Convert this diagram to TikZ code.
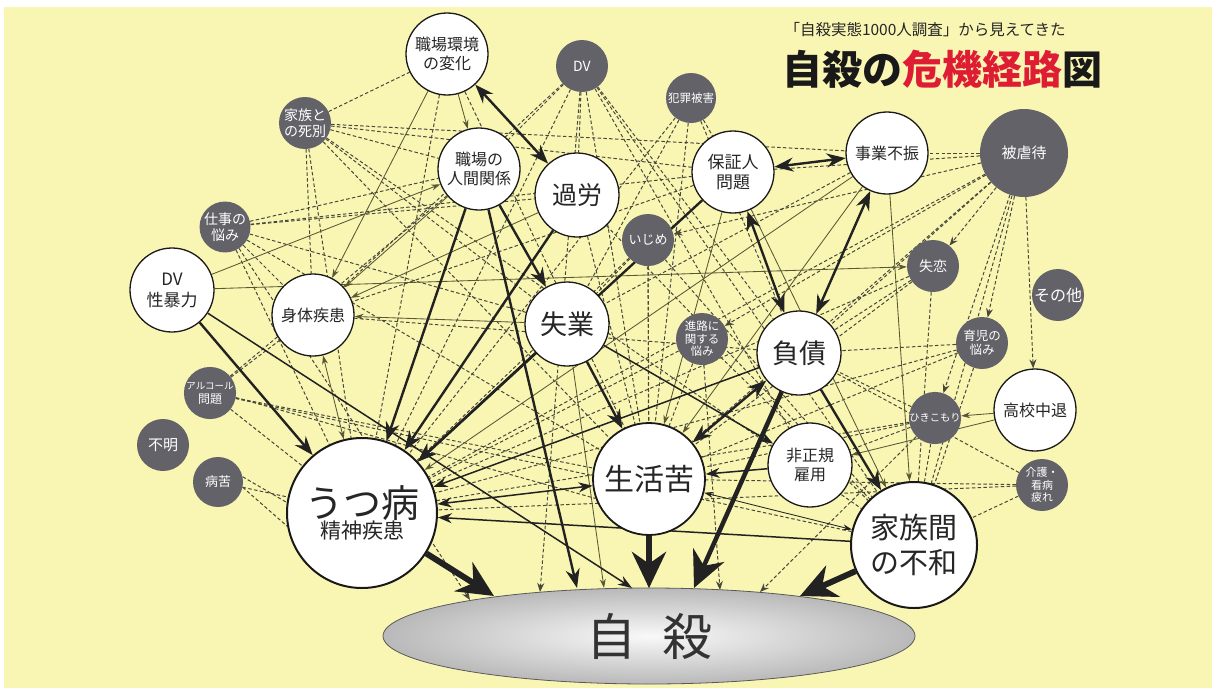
\documentclass[tikz,border=0pt]{standalone}
\usepackage{fontspec}
\setmainfont{Noto Sans CJK JP}
\usetikzlibrary{arrows.meta,shapes.geometric}
\definecolor{bgY}{RGB}{249,246,180}
\definecolor{darkN}{RGB}{98,98,104}
\definecolor{lineK}{RGB}{34,34,34}
\definecolor{olv}{RGB}{88,88,52}
\definecolor{dsh}{RGB}{72,72,60}
\definecolor{titleRed}{RGB}{222,28,52}
\newcommand{\fsz}[2]{\fontsize{#1}{#2}\selectfont}
\pgfdeclarelayer{bgl}\pgfdeclarelayer{edges}\pgfsetlayers{bgl,edges,main}
\tikzset{
 wn/.style={circle,draw=black!90,line width=1.3pt,fill=white,align=center,inner sep=0pt,text=black!85},
 dn/.style={circle,fill=darkN,text=white,align=center,inner sep=0pt,minimum size=52pt},
 dashe/.style={dash pattern=on 3.5pt off 2.3pt, line width=1pt, draw=dsh},
 dasharr/.style={dashe, -{Stealth[length=9pt,width=7pt]}},
 thinl/.style={line width=0.85pt, draw=olv},
 thinarr/.style={thinl, -{Stealth[length=9pt,width=6pt]}},
 thinboth/.style={thinl, {Stealth[length=9pt,width=6pt]}-{Stealth[length=9pt,width=6pt]}},
 midarr/.style={line width=1.5pt, draw=lineK, -{Stealth[length=14pt,width=10pt]}},
 midboth/.style={line width=1.5pt, draw=lineK, {Stealth[length=14pt,width=10pt]}-{Stealth[length=14pt,width=10pt]}},
 tharr/.style={line width=2.4pt, draw=lineK, -{Stealth[length=19pt,width=14pt]}},
 thboth/.style={line width=2.4pt, draw=lineK, {Stealth[length=19pt,width=14pt]}-{Stealth[length=19pt,width=14pt]}},
 bigarr/.style={line width=6pt, draw=lineK, -{Stealth[length=36pt,width=34pt]}},
}
\begin{document}
\begin{tikzpicture}[x=1pt,y=-1pt]
\begin{pgfonlayer}{bgl}
\fill[white] (0,0) rectangle (1212,688);
\fill[bgY] (4,7) rectangle (1212,688);
\end{pgfonlayer}

% title
\node[anchor=west,font=\fsz{15.5}{17},text=black!85] (sub) at (781,30) {「自殺実態1000人調査」から見えてきた};
\node[anchor=west,font=\fsz{40}{42}\bfseries,text=black!90] (title) at (779,69) {自殺の\textcolor{titleRed}{危機経路}図};

% white nodes
\node[wn,minimum size=82pt,font=\fsz{16}{19}] (env) at (447,54) {職場環境\\の変化};
\node[wn,minimum size=82pt,font=\fsz{16}{19}] (rel) at (479,169) {職場の\\人間関係};
\node[wn,minimum size=84pt,font=\fsz{25}{28}] (karo) at (577,195) {過労};
\node[wn,minimum size=82pt,font=\fsz{17}{20}] (hosho) at (733,172) {保証人\\問題};
\node[wn,minimum size=82pt,font=\fsz{16}{19}] (jigyo) at (887,153) {事業不振};
\node[wn,minimum size=84pt,font=\fsz{17}{21}] (dvs) at (172,290) {DV\\性暴力};
\node[wn,minimum size=82pt,font=\fsz{16}{19}] (shintai) at (313,315) {身体疾患};
\node[wn,minimum size=84pt,font=\fsz{27}{30}] (shitsu) at (567,324) {失業};
\node[wn,minimum size=84pt,font=\fsz{27}{30}] (fusai) at (799,353) {負債};
\node[wn,minimum size=82pt,font=\fsz{16}{19}] (koko) at (1035,410) {高校中退};
\node[wn,minimum size=84pt,font=\fsz{16}{19}] (hisei) at (810,465) {非正規\\雇用};
\node[wn,minimum size=112pt,line width=1.8pt,font=\fsz{30}{34}] (seikatsu) at (649,479) {生活苦};
\node[wn,minimum size=150pt,line width=2pt] (utsu) at (362,513) {\fsz{38}{42}うつ病\\\fsz{21}{26}精神疾患};
\node[wn,minimum size=126pt,line width=2pt,font=\fsz{29}{35}] (kazoku) at (914,545) {家族間\\の不和};

% dark nodes
\node[dn,font=\fsz{14}{16}] (shibetsu) at (305,123) {家族と\\の死別};
\node[dn,font=\fsz{14}{16}] (dv2) at (582,66) {DV};
\node[dn,minimum size=50pt,font=\fsz{11.5}{13}] (hanzai) at (691,98) {犯罪被害};
\node[dn,minimum size=88pt,font=\fsz{15}{17}] (gyaku) at (1024,153) {被虐待};
\node[dn,minimum size=50pt,font=\fsz{14}{16}] (shigoto) at (225,227) {仕事の\\悩み};
\node[dn,font=\fsz{13}{15}] (ijime) at (648,240) {いじめ};
\node[dn,font=\fsz{14}{16}] (shitsuren) at (933,266) {失恋};
\node[dn,font=\fsz{16}{18}] (sonota) at (1058,295) {その他};
\node[dn,font=\fsz{11.5}{12.5}] (shinro) at (702,339) {進路に\\関する\\悩み};
\node[dn,font=\fsz{12.5}{14}] (ikuji) at (982,343) {育児の\\悩み};
\node[dn,font=\fsz{12}{14}] (alc) at (210,393) {{\fsz{9.5}{13}アルコール}\\問題};
\node[dn,font=\fsz{10.3}{12}] (hiki) at (935,418) {ひきこもり};
\node[dn,font=\fsz{15}{17}] (fumei) at (163,445) {不明};
\node[dn,minimum size=50pt,font=\fsz{13}{15}] (byoku) at (218,482) {病苦};
\node[dn,font=\fsz{11}{12.5}] (kaigo) at (1042,485) {介護・\\看病\\疲れ};

% suicide ellipse
\node[ellipse,draw=black!65,line width=0.8pt,minimum width=532pt,minimum height=96pt,inner sep=0pt,
  inner color=gray!5,outer color=gray!55,text=black!80,font=\fsz{50}{52}] (jisatsu) at (649,636) {自\hspace{26pt}殺};

\coordinate (jUtsu) at (494,596);
\coordinate (jRel) at (577,588);
\coordinate (jShitsu) at (604,588);
\coordinate (jDv) at (632,588);
\coordinate (jSeik) at (649,588);
\coordinate (jFusai) at (694,588);
\coordinate (jKazoku) at (800,596);
\coordinate (jD1) at (540,592);
\coordinate (jD2) at (720,590);
\coordinate (jD3) at (760,592);
\coordinate (jD4) at (470,600);

\begin{pgfonlayer}{edges}
% dashed relations
\foreach \a/\b in {shibetsu/env, shibetsu/rel, shibetsu/hosho, shibetsu/jigyo, shibetsu/shintai, shibetsu/utsu, shibetsu/shitsu, shibetsu/seikatsu, shibetsu/kazoku,
 dv2/rel, dv2/karo, dv2/shintai, dv2/utsu, dv2/seikatsu, dv2/fusai, dv2/kazoku, dv2/hisei,
 hanzai/shitsu, hanzai/utsu, hanzai/hosho, hanzai/seikatsu, hanzai/fusai,
 gyaku/jigyo, gyaku/fusai, gyaku/seikatsu, gyaku/utsu, gyaku/kazoku, gyaku/hosho,
 shigoto/rel, shigoto/karo, shigoto/shintai, shigoto/utsu, shigoto/shitsu, shigoto/seikatsu, shigoto/hosho,
 ijime/utsu, ijime/seikatsu, ijime/shitsu, ijime/kazoku,
 shitsuren/fusai, shitsuren/seikatsu, shitsuren/utsu, shitsuren/kazoku,
 shinro/utsu, shinro/seikatsu, shinro/kazoku,
 ikuji/fusai, ikuji/seikatsu, ikuji/utsu, ikuji/kazoku,
 alc/shintai, alc/utsu, alc/seikatsu, alc/kazoku, alc/rel,
 hiki/fusai, hiki/seikatsu, hiki/utsu, hiki/kazoku, hiki/hisei,
 byoku/utsu, kaigo/kazoku, kaigo/seikatsu, kaigo/utsu, kaigo/fusai,
 env/utsu, env/seikatsu, karo/kazoku, karo/seikatsu, jigyo/shitsu, hosho/shintai, fusai/shintai}
  \draw[dashe] (\a) -- (\b);
\draw[dashe] (byoku.12) -- (utsu.172);
\draw[dashe] (byoku.-12) -- (utsu.190);
\draw[dashe] (alc.-10) -- (seikatsu.200);
\foreach \a/\b in {gyaku/shitsuren, gyaku/ikuji, gyaku/koko, gyaku/hiki, gyaku/ijime, gyaku/shinro,
 shinro/jD2, hiki/jD3, dv2/jD1, ijime/jSeik, shigoto/jD4}
  \draw[dasharr] (\a) -- (\b);

% thin solid
\foreach \a/\b in {env/rel, env/shintai, rel/shintai, karo/shintai, shitsu/shintai, dvs/rel, dvs/shitsuren,
 jigyo/utsu, jigyo/seikatsu, jigyo/kazoku, hosho/seikatsu, hosho/kazoku, koko/hiki, koko/hisei, shitsu/jShitsu}
  \draw[thinarr] (\a) -- (\b);
\draw[thinboth] (shintai) -- (utsu);
\draw[thinboth,draw=lineK] (seikatsu) -- (kazoku);

% medium
\draw[midboth] (utsu) -- (seikatsu);
\draw[midarr] (kazoku) -- (utsu);
\draw[midarr] (hisei) -- (seikatsu);
\draw[midarr] (shitsu) -- (hisei);
\draw[midarr] (fusai) -- (utsu);
\draw[midarr] (dvs) -- (jDv);

% thick
\draw[thboth] (env) -- (karo);
\draw[thboth] (hosho) -- (jigyo);
\draw[thboth] (hosho) -- (fusai);
\draw[thboth] (jigyo) -- (fusai);
\draw[thboth] (fusai) -- (seikatsu);
\draw[tharr] (rel) -- (utsu);
\draw[tharr] (rel) -- (shitsu);
\draw[tharr] (rel) -- (jRel);
\draw[tharr] (karo) -- (utsu);
\draw[tharr] (hosho) -- (utsu);
\draw[tharr] (shitsu) -- (seikatsu);
\draw[tharr] (shitsu) -- (utsu);
\draw[tharr] (dvs) -- (utsu);
\draw[tharr] (fusai) -- (kazoku);

% into suicide
\draw[bigarr] (utsu) -- (jUtsu);
\draw[bigarr] (seikatsu) -- (jSeik);
\draw[bigarr,line width=4.5pt] (fusai) -- (jFusai);
\draw[bigarr] (kazoku) -- (jKazoku);
\end{pgfonlayer}
\end{tikzpicture}
\end{document}
